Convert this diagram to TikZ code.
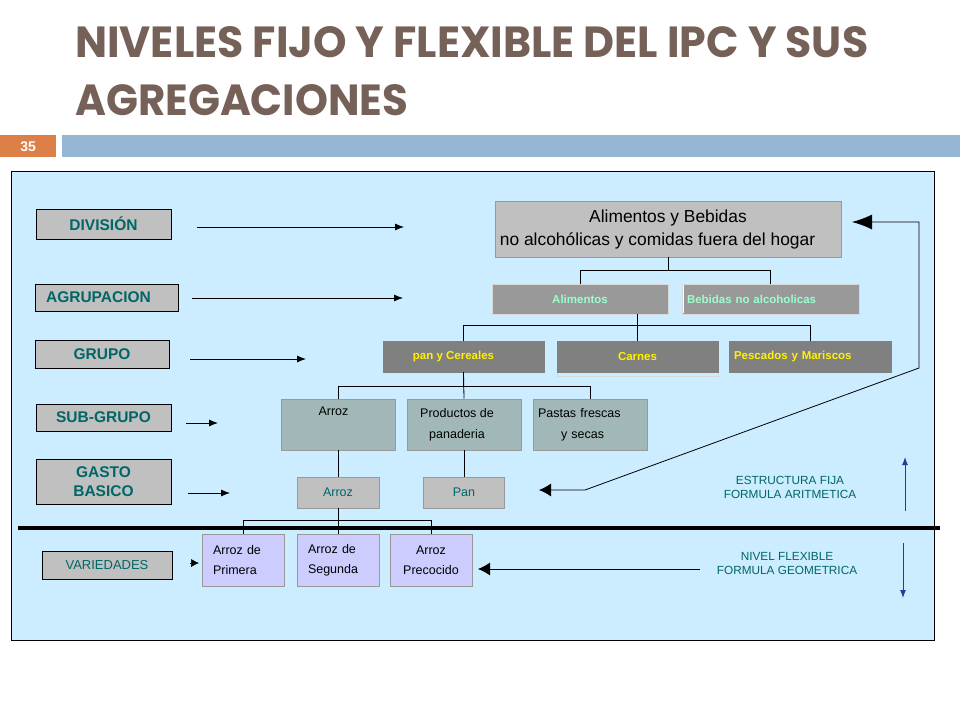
\documentclass[tikz,border=0pt]{standalone}
\usepackage{graphicx}
\usepackage{fontspec}
\setmainfont{Liberation Sans}
\newfontfamily\titlefont{Poppins}
\usetikzlibrary{arrows.meta}
\definecolor{titlec}{RGB}{118,97,88}
\definecolor{numc}{RGB}{221,128,71}
\definecolor{barc}{RGB}{148,182,210}
\definecolor{panelc}{RGB}{204,236,255}
\definecolor{lgray}{RGB}{192,192,192}
\definecolor{mgray}{RGB}{153,153,153}
\definecolor{dgray}{RGB}{128,128,128}
\definecolor{sgc}{RGB}{162,184,184}
\definecolor{lav}{RGB}{204,204,255}
\definecolor{tealc}{RGB}{0,102,102}
\definecolor{mint}{RGB}{153,255,204}
\definecolor{navy}{RGB}{51,51,153}
\begin{document}
\begin{tikzpicture}[x=1pt,y=-1pt,
  lblbox/.style={draw=black,line width=0.7pt,fill=lgray,text=tealc,inner sep=0pt,
    font=\fontsize{15.5}{19}\selectfont\bfseries,align=center},
  topbox/.style={draw=mgray,line width=0.7pt,fill=lgray,inner sep=0pt,
    font=\fontsize{17.4}{23}\selectfont,align=center},
  agbox/.style={draw=white!85!black,line width=0.5pt,fill=mgray,text=mint,inner sep=0pt,
    font=\fontsize{11.5}{14}\selectfont\bfseries},
  grbox/.style={draw=dgray,line width=0.5pt,fill=dgray,text=yellow,inner sep=0pt,
    font=\fontsize{11.5}{14}\selectfont\bfseries},
  sgbox/.style={draw=mgray,line width=0.6pt,fill=sgc,inner sep=0pt,
    font=\fontsize{12.5}{21}\selectfont,align=center},
  gbbox/.style={draw=mgray,line width=0.6pt,fill=lgray,text=tealc,inner sep=0pt,
    font=\fontsize{12.5}{15}\selectfont},
  vbox/.style={draw=mgray,line width=0.6pt,fill=lav,inner sep=0pt,
    font=\fontsize{12.5}{20}\selectfont,align=center},
  conn/.style={draw=black,line width=0.8pt},
  larrow/.style={draw=black,line width=0.8pt,-{Latex[length=9pt,width=7pt]}},
  bigarrow/.style={draw=black,line width=0.8pt},
  bluearrow/.style={draw=navy,line width=1pt,-{Latex[length=8pt,width=6pt]}},
  note/.style={text=tealc,font=\fontsize{11.8}{14}\selectfont,align=center,inner sep=0pt}
]
\useasboundingbox (0,0) rectangle (960,720);
\fill[white] (0,0) rectangle (960,720);

% title
\node[anchor=north west,inner sep=0pt,text=titlec] (title1) at (75,26)
  {\resizebox{793pt}{31pt}{\titlefont\bfseries NIVELES FIJO Y FLEXIBLE DEL IPC Y SUS}};
\node[anchor=north west,inner sep=0pt,text=titlec] (title2) at (75,84)
  {\resizebox{333pt}{31pt}{\titlefont\bfseries AGREGACIONES}};

% slide number and bar
\node[fill=numc,minimum width=56pt,minimum height=22pt,inner sep=0pt,anchor=north west,
  text=white,font=\fontsize{14}{16}\selectfont\bfseries] (num) at (0,135) {35};
\node[fill=barc,minimum width=898pt,minimum height=22pt,inner sep=0pt,anchor=north west] (bar) at (62,135) {};

% panel
\node[draw=black,line width=0.8pt,fill=panelc,minimum width=923pt,minimum height=469pt,
  inner sep=0pt,anchor=north west] (panel) at (11,171) {};

% separator
\draw[line width=3.5pt] (18,528) -- (940,528);

% left labels
\node[lblbox,minimum width=135pt,minimum height=30pt] (div) at (103.5,224) {DIVISIÓN};
\node[lblbox,minimum width=143pt,minimum height=27pt] (agr) at (106.5,297.5) {AGRUPACION\hspace*{16pt}};
\node[lblbox,minimum width=134pt,minimum height=28pt] (gru) at (102,354) {GRUPO};
\node[lblbox,minimum width=135pt,minimum height=27pt] (sub) at (103.5,417.5) {SUB-GRUPO};
\node[lblbox,minimum width=135pt,minimum height=45pt] (gas) at (103.5,481.5) {GASTO\\BASICO};
\node[lblbox,minimum width=130pt,minimum height=28pt,font=\fontsize{13}{15}\selectfont] (var) at (107,565) {VARIEDADES};

% left arrows
\coordinate (da0) at (197,227); \coordinate (da1) at (404,227);
\coordinate (aa0) at (192,298); \coordinate (aa1) at (403,298);
\coordinate (ga0) at (190,359); \coordinate (ga1) at (306,359);
\coordinate (sa0) at (186,423); \coordinate (sa1) at (218,423);
\coordinate (ba0) at (188,493); \coordinate (ba1) at (230,493);
\coordinate (va0) at (190,563); \coordinate (va1) at (199,563);
\draw[larrow] (da0) -- (da1);
\draw[larrow] (aa0) -- (aa1);
\draw[larrow] (ga0) -- (ga1);
\draw[larrow] (sa0) -- (sa1);
\draw[larrow] (ba0) -- (ba1);
\draw[draw=black,line width=0.5pt,-{Latex[length=8pt,width=8pt]}] (va0) -- (va1);

% hierarchy
\node[topbox,minimum width=346pt,minimum height=56pt] (top) at (668,229)
  {Alimentos y Bebidas\\\hspace*{-21pt}no alcohólicas y comidas fuera del hogar};
\node[agbox,minimum width=176pt,minimum height=30pt] (alim) at (580,299) {Alimentos};
\node[agbox,minimum width=177pt,minimum height=30pt,text width=167pt,align=left] (beb) at (770.5,299) {Bebidas no alcoholicas};
\draw[white,line width=0.8pt] (beb.north west) ++(2,1) -- ++(0,28);

\draw[white!85!black,line width=0.8pt] (557,345) rectangle (718,376);
\node[grbox,minimum width=161pt,minimum height=31pt] (pan) at (463.5,356.5) {pan y Cereales\hspace*{20pt}};
\node[grbox,minimum width=161pt,minimum height=31pt] (car) at (637.5,356.5) {Carnes};
\node[grbox,minimum width=162pt,minimum height=31pt,text width=152pt,align=left] (pes) at (810,356.5) {Pescados y Mariscos};

\node[sgbox,minimum width=114pt,minimum height=51pt] (sarr) at (338,424.5) {Arroz\hspace*{9pt}\\\strut};
\node[sgbox,minimum width=114pt,minimum height=51pt] (spro) at (464,424.5) {Productos de\hspace*{14pt}\\panaderia\hspace*{14pt}};
\node[sgbox,minimum width=114pt,minimum height=51pt,text width=104pt,align=left] (spas) at (590,424.5) {Pastas frescas\\\hspace*{23pt}y secas};

\node[gbbox,minimum width=82pt,minimum height=31pt] (barr) at (338,492.5) {Arroz};
\node[gbbox,minimum width=81pt,minimum height=31pt] (bpan) at (464,492.5) {Pan};

\node[vbox,minimum width=82pt,minimum height=52pt,text width=60pt,align=left] (vpri) at (243,560) {Arroz de\\Primera};
\node[vbox,minimum width=82pt,minimum height=52pt,text width=60pt,align=left] (vseg) at (338,560) {Arroz de\\Segunda};
\node[vbox,minimum width=82pt,minimum height=52pt] (vpre) at (431,560) {Arroz\\Precocido};

% tree connectors
\draw[conn] (top.south) -- ++(0,13) -| (alim.north);
\draw[conn] (top.south) ++(0,13) -| (beb.north);
\draw[conn] (car.north |- alim.south) -- (car.north);
\draw[conn] (pan.north) -- ++(0,-15) -| (pes.north);
\draw[conn] (pan.south) -- ++(0,14) -| (sarr.north);
\draw[conn] (pan.south) ++(0,14) -| (spas.north);
\draw[conn] (pan.south) -- (spro.north);
\draw[conn] (sarr.south) -- (barr.north);
\draw[conn] (spro.south) -- (bpan.north);
\draw[conn] (barr.south) -- (vseg.north);
\draw[conn] (vpri.north) -- ++(0,-13) -| (vpre.north);

% return arrow
\coordinate (r0) at (539,490);
\coordinate (r1) at (585,490);
\coordinate (r2) at (919,368);
\coordinate (r3) at (919,222);
\coordinate (r4) at (852,222);
\draw[bigarrow,{Latex[length=12pt,width=13pt]}-{Latex[length=20pt,width=15pt]}]
  (r0) -- (r1) -- (r2) -- (r3) -- (r4);

% flexible arrow
\coordinate (f0) at (700,569);
\coordinate (f1) at (478,569);
\draw[bigarrow,-{Latex[length=12pt,width=13pt]}] (f0) -- (f1);

% notes
\node[note] (est) at (790,487) {ESTRUCTURA FIJA\\FORMULA ARITMETICA};
\node[note] (niv) at (787,563) {NIVEL FLEXIBLE\\FORMULA GEOMETRICA};

\coordinate (u0) at (905,511); \coordinate (u1) at (905,457);
\coordinate (w0) at (903,543); \coordinate (w1) at (903,598);
\draw[bluearrow] (u0) -- (u1);
\draw[bluearrow] (w0) -- (w1);
\end{tikzpicture}
\end{document}
